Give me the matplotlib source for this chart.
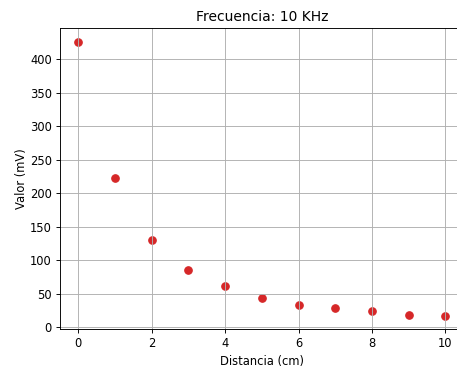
import matplotlib
matplotlib.use("Agg")
import matplotlib.pyplot as plt

# distancia entre bobinas y tension medida a 10 KHz
distancia = [0, 1, 2, 3, 4, 5, 6, 7, 8, 9, 10]
valor_mv = [426, 223, 130, 85, 61, 44, 34, 29, 24, 19, 17.5]

DPI = 83
fig = plt.figure(figsize=(457 / DPI, 369 / DPI), dpi=DPI)
ax = fig.add_axes([0.131, 0.1076, 0.884, 0.817])

ax.scatter(distancia, valor_mv, color='tab:red', s=42)
ax.set_title('Frecuencia: 10 KHz')
ax.set_xlabel('Distancia (cm)')
ax.set_ylabel('Valor (mV)', labelpad=1.5)
ax.grid(True)

fig.savefig('out.png', dpi=DPI)
